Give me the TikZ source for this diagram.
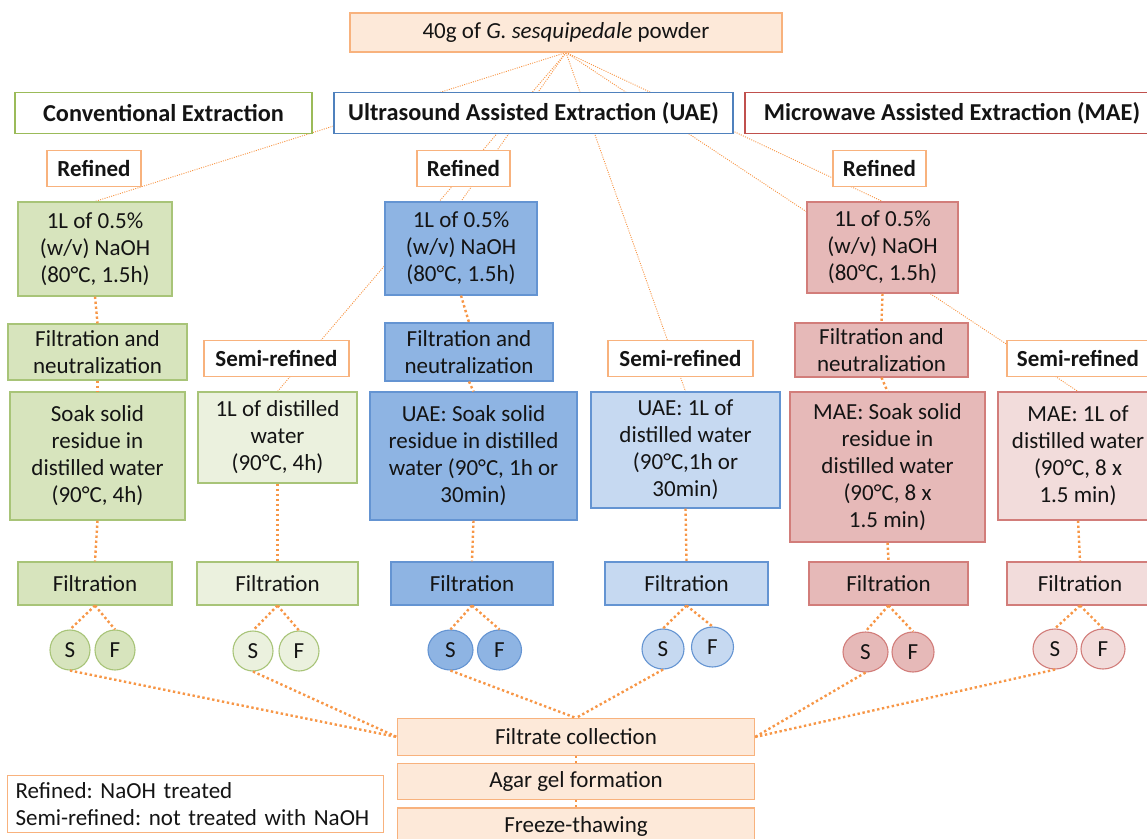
\documentclass[tikz,border=0pt]{standalone}
\usepackage{fontspec}
\setmainfont{Carlito}
\usetikzlibrary{shapes.geometric}
\pgfdeclarelayer{behind}
\pgfsetlayers{behind,main}
\definecolor{orgline}{RGB}{247,150,70}
\definecolor{orgbrd}{RGB}{248,178,125}
\definecolor{orgfill}{RGB}{253,233,217}
\definecolor{grnbrd}{RGB}{168,196,120}
\definecolor{grnhead}{RGB}{155,187,89}
\definecolor{grnfill}{RGB}{215,228,189}
\definecolor{grnlite}{RGB}{235,241,222}
\definecolor{bluhead}{RGB}{79,129,189}
\definecolor{blubrd}{RGB}{100,148,210}
\definecolor{blufill}{RGB}{142,180,227}
\definecolor{blulite}{RGB}{198,217,241}
\definecolor{redhead}{RGB}{192,80,77}
\definecolor{redbrd}{RGB}{210,125,122}
\definecolor{redfill}{RGB}{230,185,184}
\definecolor{redlite}{RGB}{242,220,219}
\frenchspacing
\begin{document}
\begin{tikzpicture}[
  x=1pt,y=-1pt,
  every node/.style={font=\fontsize{23}{27}\selectfont, text=black!92, align=center, inner sep=2pt},
  wh/.style 2 args={minimum width=#1pt, minimum height=#2pt},
  head/.style={draw, line width=1.4pt, fill=white, font=\fontsize{24.3}{28}\selectfont\bfseries, minimum height=41pt},
  tag/.style={draw=orgbrd, line width=1.1pt, fill=white, font=\fontsize{23}{27}\selectfont\bfseries, minimum height=36pt},
  proc/.style={line width=1.1pt},
  grn/.style={draw=grnbrd, fill=grnfill},
  grnl/.style={draw=grnbrd, fill=grnlite},
  blu/.style={draw=blubrd, fill=blufill},
  blul/.style={draw=blubrd, fill=blulite},
  red/.style={draw=redbrd, fill=redfill},
  redl/.style={draw=redbrd, fill=redlite},
  org/.style={draw=orgbrd, fill=orgfill},
  sf/.style={ellipse, proc, minimum width=42pt, minimum height=40pt, inner sep=0pt},
  feed/.style={orgline, line width=0.9pt, dash pattern=on 1pt off 1.3pt},
  flow/.style={orgline, line width=2.4pt, dash pattern=on 2.4pt off 2.6pt}
]
\useasboundingbox (0,0) rectangle (1147,838);

\node[proc, org, wh={432}{39}] (powder) at (566,32.5) {40g of \textit{G. sesquipedale} powder};

\node[head, draw=grnhead, minimum width=297pt] (conv) at (163.5,113) {Conventional Extraction};
\node[head, draw=bluhead, minimum width=399pt] (uae) at (533.5,113) {Ultrasound Assisted Extraction (UAE)};
\node[head, draw=redhead, minimum width=414pt] (mae) at (952,113) {Microwave Assisted Extraction (MAE)};

\node[tag, minimum width=94pt] (tag-c) at (94,168.5) {Refined};
\node[tag, minimum width=93pt] (tag-u) at (463.5,168.5) {Refined};
\node[tag, minimum width=93pt] (tag-m) at (879.5,168.5) {Refined};
\node[tag, minimum width=145pt] (tag-cs) at (276.5,358.5) {Semi-refined};
\node[tag, minimum width=145pt] (tag-us) at (680.5,358.5) {Semi-refined};
\node[tag, minimum width=142pt] (tag-ms) at (1078,358.5) {Semi-refined};

\node[proc, grn, wh={154}{94}] (na-c) at (95,249) {1L of 0.5\%\\(w/v) NaOH\\(80°C, 1.5h)};
\node[proc, blu, wh={152}{93}] (na-u) at (461,248.5) {1L of 0.5\%\\(w/v) NaOH\\(80°C, 1.5h)};
\node[proc, red, wh={151}{91}] (na-m) at (882.5,247.5) {1L of 0.5\%\\(w/v) NaOH\\(80°C, 1.5h)};

\node[proc, grn, wh={179}{56}] (fn-c) at (97.5,352) {Filtration and\\neutralization};
\node[proc, blu, wh={168}{58}] (fn-u) at (469,352) {Filtration and\\neutralization};
\node[proc, red, wh={173}{54}] (fn-m) at (881.5,350) {Filtration and\\neutralization};

\node[proc, grn, wh={175}{128}] (soak-c) at (97.5,456) {Soak solid\\residue in\\distilled water\\(90°C, 4h)};
\node[proc, grnl, wh={159}{91}] (water-cs) at (277.5,437.5) {1L of distilled\\water\\(90°C, 4h)};
\node[proc, blu, wh={207}{128}] (soak-u) at (473.5,456) {UAE: Soak solid\\residue in distilled\\water (90°C, 1h or\\30min)};
\node[proc, blul, wh={189}{116}] (water-us) at (685.5,450) {UAE: 1L of\\distilled water\\(90°C,1h or\\30min)};
\node[proc, red, wh={195}{150}] (soak-m) at (887.5,467) {MAE: Soak solid\\residue in\\distilled water\\(90°C, 8 x\\1.5 min)};
\node[proc, redl, wh={160}{128}] (water-ms) at (1078,456) {MAE: 1L of\\distilled water\\(90°C, 8 x\\1.5 min)};

\node[proc, grn, wh={154}{43}] (filt-c) at (95,583.5) {Filtration};
\node[proc, grnl, wh={161}{43}] (filt-cs) at (277.5,583.5) {Filtration};
\node[proc, blu, wh={162}{43}] (filt-u) at (472,583.5) {Filtration};
\node[proc, blul, wh={163}{43}] (filt-us) at (686.5,583.5) {Filtration};
\node[proc, red, wh={159}{43}] (filt-m) at (888.5,583.5) {Filtration};
\node[proc, redl, wh={146}{43}] (filt-ms) at (1080,583.5) {Filtration};

\node[sf, grn, minimum width=40pt] (s-c) at (70,650) {S};
\node[sf, grn, minimum width=40pt] (f-c) at (115,650) {F};
\node[sf, grnl, minimum width=40pt] (s-cs) at (253,651) {S};
\node[sf, grnl, minimum width=40pt] (f-cs) at (299,651) {F};
\node[sf, blu, minimum width=45pt] (s-u) at (450.5,650) {S};
\node[sf, blu, minimum width=44pt] (f-u) at (499.5,650) {F};
\node[sf, blul] (s-us) at (663,649) {S};
\node[sf, blul] (f-us) at (712.5,647) {F};
\node[sf, red, minimum width=45pt] (s-m) at (865.5,652) {S};
\node[sf, red] (f-m) at (913,652) {F};
\node[sf, redl, minimum width=44pt] (s-ms) at (1055,649) {S};
\node[sf, redl, minimum width=44pt] (f-ms) at (1103,649) {F};

\node[proc, org, wh={357}{37}] (collect) at (576,737) {Filtrate collection};
\node[proc, org, wh={357}{36}] (agar) at (576,781.5) {Agar gel formation};
\node[proc, org, wh={357}{36}] (thaw) at (576,826) {Freeze-thawing};

\node[proc, draw=orgbrd, fill=white, anchor=north west, align=left, text width=360pt, inner xsep=8pt, inner ysep=7pt] (legend) at (7,775) {Refined: NaOH treated\\Semi-refined: not treated with NaOH};

\begin{pgfonlayer}{behind}
\foreach \t in {na-c,water-cs,na-u,water-us,na-m,water-ms}
  \draw[feed] (powder.south) -- (\t.north);
\end{pgfonlayer}

\foreach \a/\b in {na-c/fn-c,fn-c/soak-c,soak-c/filt-c,water-cs/filt-cs,
  na-u/fn-u,fn-u/soak-u,soak-u/filt-u,water-us/filt-us,
  na-m/fn-m,fn-m/soak-m,soak-m/filt-m,water-ms/filt-ms,collect/agar,agar/thaw}
  \draw[flow] (\a.south) -- (\b.north);

\foreach \p in {c,cs,u,us,m,ms}{
  \draw[flow] (filt-\p.south) -- (s-\p.north);
  \draw[flow] (filt-\p.south) -- (f-\p.north);
}

\draw[flow] (s-c.south) -- (collect.west);
\draw[flow] (s-cs.south) -- (collect.west);
\draw[flow] (s-u.south) -- (collect.north);
\draw[flow] (s-us.south) -- (collect.north);
\draw[flow] (s-m.south) -- (collect.east);
\draw[flow] (s-ms.south) -- (collect.east);
\end{tikzpicture}
\end{document}
